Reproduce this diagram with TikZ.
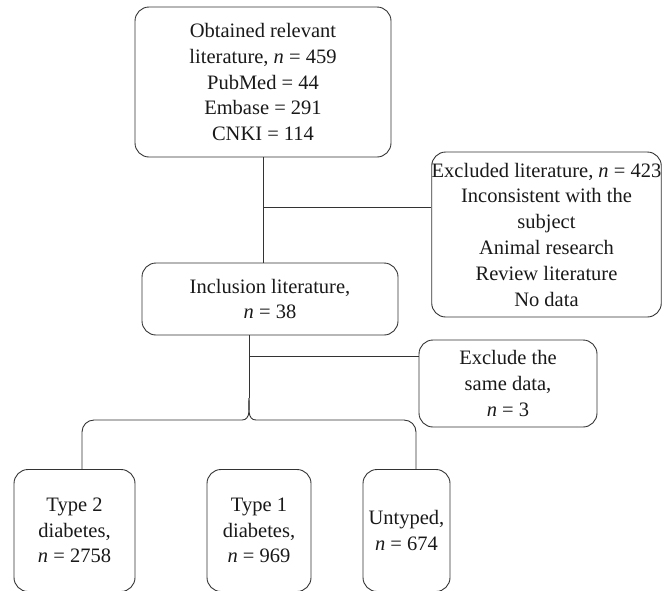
\documentclass[tikz,border=0pt]{standalone}
\usepackage{fontspec}
\setmainfont{Liberation Serif}
\usetikzlibrary{positioning}

\tikzset{
  box/.style={draw=black!80, line width=0.9pt, rounded corners=14pt, align=center,
    inner sep=0pt, text=black!90, font=\fontsize{20.5}{25.8}\selectfont},
  link/.style={draw=black!80, line width=0.9pt}
}

\begin{document}
\begin{tikzpicture}[x=1pt,y=-1pt]
    \useasboundingbox (0,0) rectangle (664,590);

    % Boxes
    \node[box, minimum width=256, minimum height=150] (found) at (263,82)
        {Obtained relevant\\literature, \textit{n} = 459\\PubMed = 44\\Embase = 291\\CNKI = 114};
    \node[box, minimum width=227, minimum height=165] (excl) at (546.5,234.5)
        {Excluded literature, \textit{n} = 423\\Inconsistent with the\\subject\\Animal research\\Review literature\\No data};
    \node[box, minimum width=256, minimum height=72] (incl) at (270,299)
        {Inclusion literature,\\\textit{n} = 38};
    \node[box, minimum width=178, minimum height=87] (same) at (508,383.5)
        {Exclude the\\same data,\\\textit{n} = 3};
    \node[box, minimum width=121, minimum height=122] (typetwo) at (74.5,530.5)
        {Type 2\\diabetes,\\\textit{n} = 2758};
    \node[box, minimum width=104, minimum height=122] (typeone) at (259,530.5)
        {Type 1\\diabetes,\\\textit{n} = 969};
    \node[box, minimum width=87, minimum height=122] (untyped) at (406.5,530.5)
        {Untyped,\\\textit{n} = 674};

    % Junctions
    \coordinate (j1) at (263,207);
    \coordinate (j2) at (249,356);
    \coordinate (tip) at (249,398);
    \coordinate (bl) at (82,420);
    \coordinate (br) at (416,420);

    % Connectors
    \draw[link] (found.south) -- (found.south |- incl.north);
    \draw[link] (j1) -- (j1 -| excl.west);
    \draw[link] (incl.south -| tip) -- (tip);
    \draw[link] (j2) -- (j2 -| same.west);

    % Brace to the groups
    \draw[link] (tip) to[out=-90,in=0] (242,420) [rounded corners=12pt] -| (typetwo.north -| bl);
    \draw[link] (tip) to[out=-90,in=180] (256,420) [rounded corners=12pt] -| (untyped.north -| br);
\end{tikzpicture}
\end{document}
